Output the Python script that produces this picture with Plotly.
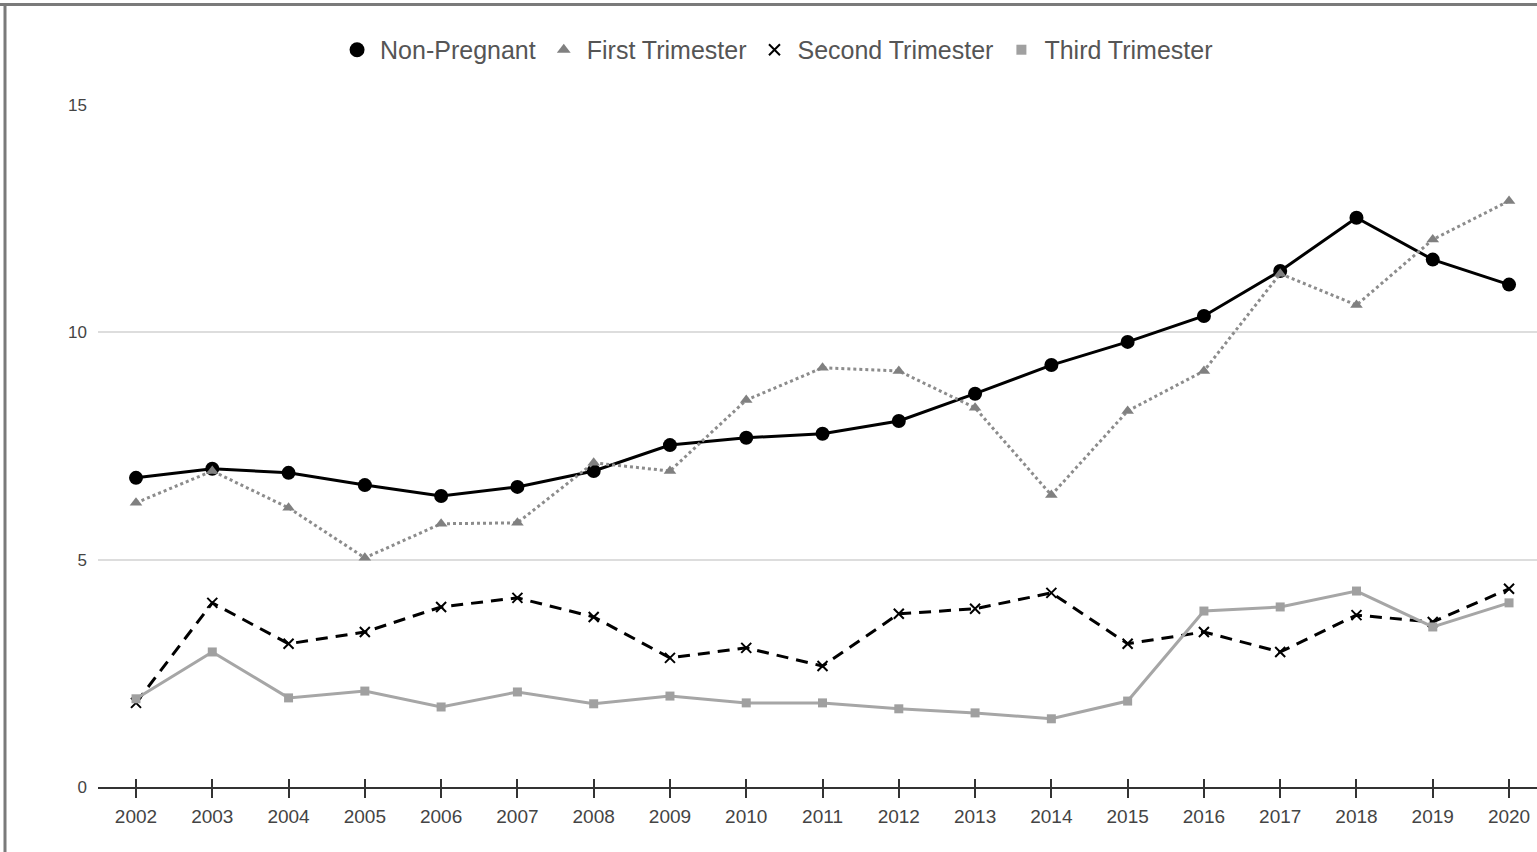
import plotly.graph_objects as go

# Annual rates by pregnancy status
years = list(range(2002, 2021))
non_pregnant = [6.80, 7.00, 6.91, 6.64, 6.40, 6.60, 6.95, 7.52, 7.68, 7.77,
                8.05, 8.65, 9.28, 9.79, 10.36, 11.35, 12.52, 11.60, 11.05]
first_trimester = [6.25, 6.95, 6.14, 5.04, 5.79, 5.81, 7.13, 6.95, 8.51, 9.22,
                   9.15, 8.34, 6.42, 8.27, 9.15, 11.29, 10.60, 12.04, 12.89]
second_trimester = [1.85, 4.05, 3.15, 3.41, 3.96, 4.16, 3.74, 2.84, 3.06, 2.66,
                    3.81, 3.92, 4.27, 3.15, 3.41, 2.97, 3.78, 3.63, 4.36]
third_trimester = [1.94, 2.97, 1.96, 2.11, 1.76, 2.09, 1.83, 2.00, 1.85, 1.85,
                   1.72, 1.63, 1.50, 1.89, 3.87, 3.96, 4.31, 3.52, 4.05]
y_ticks = [0, 5, 10, 15]

W, H = 1537, 852
ML, MR, MT, MB = 98, 0, 105, 65
FONT = "Arial, Liberation Sans, sans-serif"

series = [
    ("Non-Pregnant", non_pregnant, dict(color="#000000", width=3, dash="solid"),
     dict(symbol="circle", size=14, color="#000000")),
    ("First Trimester", first_trimester, dict(color="#8c8c8c", width=3, dash="dot"),
     dict(symbol="triangle-up", size=11, color="#808080")),
    ("Second Trimester", second_trimester, dict(color="#000000", width=3, dash="12px,8px"),
     dict(symbol="x-thin", size=10, color="#000000", line=dict(width=2, color="#000000"))),
    ("Third Trimester", third_trimester, dict(color="#a6a6a6", width=3, dash="solid"),
     dict(symbol="square", size=9, color="#a0a0a0")),
]

fig = go.Figure()
for name, vals, line, marker in series:
    fig.add_trace(go.Scatter(x=years, y=vals, mode="lines+markers", name=name,
                             line=line, marker=marker, showlegend=False,
                             cliponaxis=False))
# legend entries show markers only
for name, vals, line, marker in series:
    lm = dict(marker)
    lm["size"] = marker["size"] + 1
    fig.add_trace(go.Scatter(x=[None], y=[None], mode="markers", name=name,
                             marker=lm, showlegend=True))

x_lo = 2002 - 38 / 76.28
x_hi = x_lo + (W - ML - MR) / 76.28

fig.update_layout(
    width=W, height=H,
    margin=dict(l=ML, r=MR, t=MT, b=MB),
    paper_bgcolor="white", plot_bgcolor="white",
    font=dict(family=FONT, color="#444444"),
    legend=dict(orientation="h", x=0.4712, xanchor="center", y=1.0807,
                yanchor="middle", font=dict(size=25, color="#555555"),
                itemwidth=36, tracegroupgap=0, bgcolor="rgba(0,0,0,0)"),
    xaxis=dict(range=[x_lo, x_hi], tickvals=years, ticktext=[str(y) for y in years],
               showgrid=False, zeroline=False, showline=True, linecolor="#333333",
               linewidth=2, ticks="outside", ticklen=9, tickwidth=2, tickcolor="#333333",
               tickfont=dict(size=19, color="#444444"), ticklabelstandoff=2),
    xaxis2=dict(range=[x_lo, x_hi], tickvals=years, overlaying="x", anchor="y",
                side="bottom", showticklabels=False, showgrid=False, zeroline=False,
                ticks="inside", ticklen=8, tickwidth=2, tickcolor="#333333"),
    yaxis=dict(range=[0, 15], tickvals=y_ticks, showgrid=True, gridcolor="#dddddd",
               gridwidth=1.5, zeroline=False, showline=False,
               tickfont=dict(size=17, color="#444444"), ticklabelstandoff=10),
)

# ticks crossing the axis line come from an overlaid axis carrying inside ticks
fig.add_trace(go.Scatter(x=[None], y=[None], xaxis="x2", showlegend=False))

# thin gray frame along the top and left of the page
ph = H - MT - MB
pw = W - ML - MR
def px_x(px):
    return (px - ML) / pw
def px_y(py):
    return (H - MB - py) / ph
frame = dict(color="#7a7a7a", width=3)
fig.add_shape(type="line", xref="paper", yref="paper", x0=px_x(0), x1=px_x(W),
              y0=px_y(4.5), y1=px_y(4.5), line=frame)
fig.add_shape(type="line", xref="paper", yref="paper", x0=px_x(5), x1=px_x(5),
              y0=px_y(3), y1=px_y(H), line=frame)

fig.write_html("out.html")
